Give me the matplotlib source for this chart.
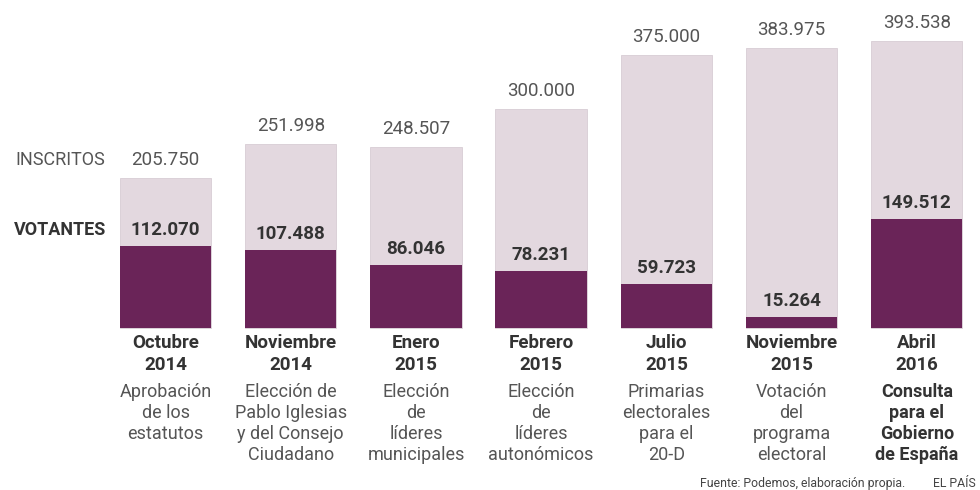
import numpy as np
import matplotlib.pyplot as plt

plt.rcParams['font.family'] = ['Roboto', 'DejaVu Sans']

# datos
inscritos = [205750, 251998, 248507, 300000, 375000, 383975, 393538]
votantes = [112070, 107488, 86046, 78231, 59723, 15264, 149512]
meses = ['Octubre\n2014', 'Noviembre\n2014', 'Enero\n2015', 'Febrero\n2015',
         'Julio\n2015', 'Noviembre\n2015', 'Abril\n2016']
descripciones = ['Aprobación\nde los\nestatutos',
                 'Elección de\nPablo Iglesias\ny del Consejo\nCiudadano',
                 'Elección\nde\nlíderes\nmunicipales',
                 'Elección\nde\nlíderes\nautonómicos',
                 'Primarias\nelectorales\npara el\n20-D',
                 'Votación\ndel\nprograma\nelectoral',
                 'Consulta\npara el\nGobierno\nde España']


def fmt(v):
    return '{:,}'.format(v).replace(',', '.')


light = '#e3d8df'
dark = '#6a2458'

fig = plt.figure(figsize=(9.8, 4.9), dpi=100)
ax = fig.add_axes([0, 0, 1, 1])
ax.set_xlim(-1.322, 6.505)
ax.set_ylim(-222200, 449900)
ax.axis('off')

x = np.arange(len(inscritos))
ax.bar(x, inscritos, width=0.73, color=light, edgecolor='#d8ccd4', linewidth=0.6)
ax.bar(x, votantes, width=0.73, color=dark)

for i in range(len(x)):
    ax.annotate(fmt(inscritos[i]), (x[i], inscritos[i]), xytext=(0, 9),
                textcoords='offset pixels', ha='center', va='bottom',
                fontsize=13.5, color='#555555')
    ax.annotate(fmt(votantes[i]), (x[i], votantes[i]), xytext=(0, 7),
                textcoords='offset pixels', ha='center', va='bottom',
                fontsize=13.5, color='#333333', fontweight='bold')
    ax.annotate(meses[i], (x[i], 0), xytext=(0, -6),
                textcoords='offset pixels', ha='center', va='top',
                fontsize=13.5, color='#333333', fontweight='bold',
                linespacing=1.26)
    ax.annotate(descripciones[i], (x[i], 0), xytext=(0, -55),
                textcoords='offset pixels', ha='center', va='top',
                fontsize=13, color='#333333' if i == 6 else '#555555',
                fontweight='bold' if i == 6 else 'normal',
                linespacing=1.22)

ax.annotate('INSCRITOS', (x[0], inscritos[0]), xytext=(-60, 9),
            textcoords='offset pixels', ha='right', va='bottom',
            fontsize=13, color='#555555')
ax.annotate('VOTANTES', (x[0], votantes[0]), xytext=(-59, 7),
            textcoords='offset pixels', ha='right', va='bottom',
            fontsize=13, color='#333333', fontweight='bold')

fig.text(0.924, 0.001, 'Fuente: Podemos, elaboración propia.', ha='right',
         va='bottom', fontsize=8.8, color='#444444')
fig.text(0.996, 0.001, 'EL PAÍS', ha='right', va='bottom', fontsize=8.8,
         color='#444444')

fig.savefig('out.png', dpi=100, facecolor='white')
